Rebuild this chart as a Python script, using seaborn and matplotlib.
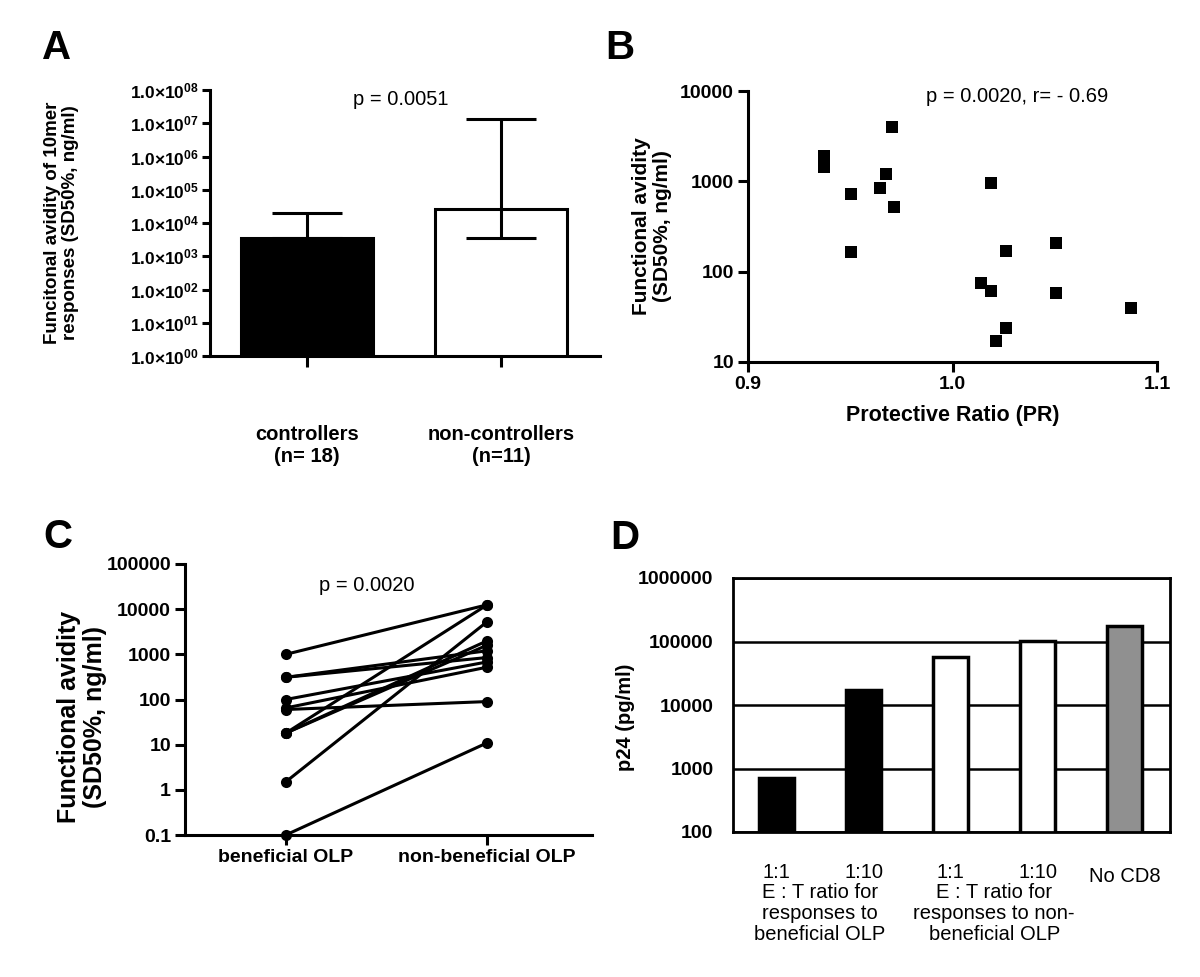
import numpy as np
import pandas as pd
import matplotlib
matplotlib.use("Agg")
import matplotlib.pyplot as plt
from matplotlib.ticker import NullLocator
import seaborn as sns

# DATA
# A: functional avidity of 10mer responses
groups_a = ["controllers\n(n= 18)", "non-controllers\n(n=11)"]
means_a = [3500, 27000]
err_low_a = [3500, 3600]
err_high_a = [20000, 1.35e7]
p_text_a = "p = 0.0051"

# B: avidity vs protective ratio
pr_b = [0.9704, 0.9373, 0.9373, 0.9675, 0.9644, 0.9503, 0.9712, 1.0186, 0.9503,
        1.0508, 1.0260, 1.0137, 1.0186, 1.0508, 1.0873, 1.0260, 1.0214]
avidity_b = [3960, 1900, 1440, 1200, 840, 730, 515, 960, 165,
             210, 170, 75, 61, 58, 40, 24, 17]
p_text_b = "p = 0.0020, r= - 0.69"

# C: paired avidities
groups_c = ["beneficial OLP", "non-beneficial OLP"]
beneficial_c = [1000, 310, 310, 100, 65, 60, 18, 18, 18, 1.5, 0.1]
non_beneficial_c = [12500, 1200, 850, 680, 520, 90, 12500, 2000, 1600, 5300, 11]
p_text_c = "p = 0.0020"

# D: p24 by E:T ratio
bars_d = ["ben_1", "ben_10", "non_1", "non_10", "none"]
ratio_labels_d = ["1:1", "1:10", "1:1", "1:10", ""]
p24_d = [700, 17000, 56000, 102000, 176000]
colors_d = ["black", "black", "white", "white", "#909090"]
group_text_d = ["E : T ratio for\nresponses to\nbeneficial OLP",
                "E : T ratio for\nresponses to non-\nbeneficial OLP"]

sns.set_style("ticks")
plt.rcParams["font.family"] = ["Liberation Sans", "DejaVu Sans"]
plt.rcParams["mathtext.fontset"] = "custom"
plt.rcParams["mathtext.rm"] = "Liberation Sans"
plt.rcParams["mathtext.bf"] = "Liberation Sans:bold"
for key in ["text.color", "axes.labelcolor", "xtick.color", "ytick.color", "axes.edgecolor"]:
    plt.rcParams[key] = "black"

W, H = 1200, 977
fig = plt.figure(figsize=(W / 100, H / 100), dpi=100)


def px_axes(left, top, right, bottom):
    return fig.add_axes([left / W, 1 - bottom / H, (right - left) / W, (bottom - top) / H])


LW = 2.2

# 1. PANEL A
ax_a = px_axes(210, 90, 600, 356)
ax_a.set_yscale("log")
sns.barplot(x=groups_a, y=means_a, hue=groups_a, palette=["black", "white"], legend=False,
            edgecolor="black", linewidth=LW, width=0.68, ax=ax_a)
yerr = [np.array(means_a) - np.array(err_low_a), np.array(err_high_a) - np.array(means_a)]
ax_a.errorbar(x=[0, 1], y=means_a, yerr=yerr, fmt="none", ecolor="black",
              elinewidth=LW, capsize=25, capthick=LW, zorder=5)
ax_a.set_ylim(1, 1e8)
ax_a.set_xlim(-0.5, 1.51)
ax_a.set_yticks([10.0 ** k for k in range(9)],
                labels=[r"$\mathbf{1.0{\times}10^{%02d}}$" % k for k in range(9)])
ax_a.yaxis.set_minor_locator(NullLocator())
ax_a.tick_params(axis="y", labelsize=12.5, width=LW, length=6, pad=2)
ax_a.tick_params(axis="x", labelsize=14.5, width=LW, length=8, pad=42)
for lab in ax_a.get_xticklabels():
    lab.set_fontweight("bold")
    lab.set_linespacing(1.15)
ax_a.set_xlabel("")
ax_a.text(-0.38, 0.5, "Funcitonal avidity of 10mer\nresponses (SD50%, ng/ml)", rotation=90,
          ha="center", va="center", fontsize=13.5, fontweight="bold", linespacing=1.1,
          transform=ax_a.transAxes)
ax_a.text(0.49, 0.966, p_text_a, ha="center", va="center", fontsize=14.5, transform=ax_a.transAxes)
sns.despine(ax=ax_a)
for s in ["left", "bottom"]:
    ax_a.spines[s].set_linewidth(LW)

# 2. PANEL B
ax_b = px_axes(748, 91, 1157, 362)
ax_b.set_yscale("log")
sns.scatterplot(x=pr_b, y=avidity_b, marker="s", s=72, color="black", linewidth=0, ax=ax_b)
ax_b.set_xlim(0.9, 1.1)
ax_b.set_ylim(10, 10000)
ax_b.set_xticks([0.9, 1.0, 1.1], labels=["0.9", "1.0", "1.1"])
ax_b.set_yticks([10, 100, 1000, 10000], labels=["10", "100", "1000", "10000"])
ax_b.yaxis.set_minor_locator(NullLocator())
ax_b.tick_params(labelsize=14, width=LW, length=7, pad=3)
for lab in ax_b.get_xticklabels() + ax_b.get_yticklabels():
    lab.set_fontweight("bold")
ax_b.text(-0.235, 0.5, "Functional avidity\n(SD50%, ng/ml)", rotation=90, ha="center", va="center",
          fontsize=15, fontweight="bold", linespacing=1.1, transform=ax_b.transAxes)
ax_b.text(0.5, -0.196, "Protective Ratio (PR)", ha="center", va="center",
          fontsize=15.5, fontweight="bold", transform=ax_b.transAxes)
ax_b.text(0.658, 0.978, p_text_b, ha="center", va="center", fontsize=14.5, transform=ax_b.transAxes)
sns.despine(ax=ax_b)
for s in ["left", "bottom"]:
    ax_b.spines[s].set_linewidth(LW)

# 3. PANEL C
ax_c = px_axes(185, 564, 592, 835)
ax_c.set_yscale("log")
n_pairs = len(beneficial_c)
df_c = pd.DataFrame({
    "pair": list(range(n_pairs)) * 2,
    "group": [groups_c[0]] * n_pairs + [groups_c[1]] * n_pairs,
    "value": beneficial_c + non_beneficial_c,
})
df_c["x"] = df_c["group"].map({g: i for i, g in enumerate(groups_c)})
sns.lineplot(data=df_c, x="x", y="value", units="pair", estimator=None, color="black",
             linewidth=2.2, marker="o", markersize=8, markeredgewidth=0, ax=ax_c)
for line in ax_c.lines:
    line.set_clip_on(False)
ax_c.set_xlim(-0.5, 1.52)
ax_c.set_ylim(0.1, 100000)
ax_c.set_xticks([0, 1], labels=groups_c)
ax_c.set_yticks([0.1, 1, 10, 100, 1000, 10000, 100000],
                labels=["0.1", "1", "10", "100", "1000", "10000", "100000"])
ax_c.yaxis.set_minor_locator(NullLocator())
ax_c.tick_params(labelsize=14, width=LW, length=7, pad=3)
for lab in ax_c.get_xticklabels() + ax_c.get_yticklabels():
    lab.set_fontweight("bold")
ax_c.set_xlabel("")
ax_c.set_ylabel("")
ax_c.text(-0.253, 0.435, "Functional avidity\n(SD50%, ng/ml)", rotation=90, ha="center", va="center",
          fontsize=18, fontweight="bold", linespacing=1.1, transform=ax_c.transAxes)
ax_c.text(0.447, 0.92, p_text_c, ha="center", va="center", fontsize=14.5, transform=ax_c.transAxes)
sns.despine(ax=ax_c)
for s in ["left", "bottom"]:
    ax_c.spines[s].set_linewidth(LW)

# 4. PANEL D
ax_d = px_axes(733, 578, 1170, 832)
ax_d.set_yscale("log")
ax_d.set_axisbelow(True)
ax_d.yaxis.grid(True, color="black", linewidth=1.8)
sns.barplot(x=bars_d, y=p24_d, hue=bars_d, palette=colors_d, legend=False,
            edgecolor="black", linewidth=2.5, width=0.4, ax=ax_d)
ax_d.set_ylim(100, 1e6)
ax_d.set_xlim(-0.5, 4.52)
ax_d.set_xticks(range(len(bars_d)), labels=ratio_labels_d)
ax_d.set_yticks([100, 1000, 10000, 100000, 1000000],
                labels=["100", "1000", "10000", "100000", "1000000"])
ax_d.yaxis.set_minor_locator(NullLocator())
ax_d.tick_params(axis="x", labelsize=14.5, length=0, pad=22)
ax_d.tick_params(axis="y", labelsize=14, length=0, pad=14)
for lab in ax_d.get_yticklabels():
    lab.set_fontweight("bold")
for s in ax_d.spines.values():
    s.set_linewidth(2)
    s.set_visible(True)
ax_d.text(4, -0.175, "No CD8", ha="center", va="center", fontsize=14.5,
          transform=ax_d.get_xaxis_transform())
for i, txt in enumerate(group_text_d):
    ax_d.text(2 * i + 0.5, -0.2, txt, ha="center", va="top", fontsize=14.5, linespacing=1.15,
              transform=ax_d.get_xaxis_transform())
ax_d.text(-0.247, 0.451, "p24 (pg/ml)", rotation=90, ha="center", va="center",
          fontsize=14.5, fontweight="bold", transform=ax_d.transAxes)

# panel letters
for letter, (xp, yp) in zip("ABCD", [(57, 48), (620, 48), (58, 537), (625, 538)]):
    fig.text(xp / W, 1 - yp / H, letter, ha="center", va="center", fontsize=29, fontweight="bold")

fig.savefig("out.png", dpi=100)
plt.close(fig)
